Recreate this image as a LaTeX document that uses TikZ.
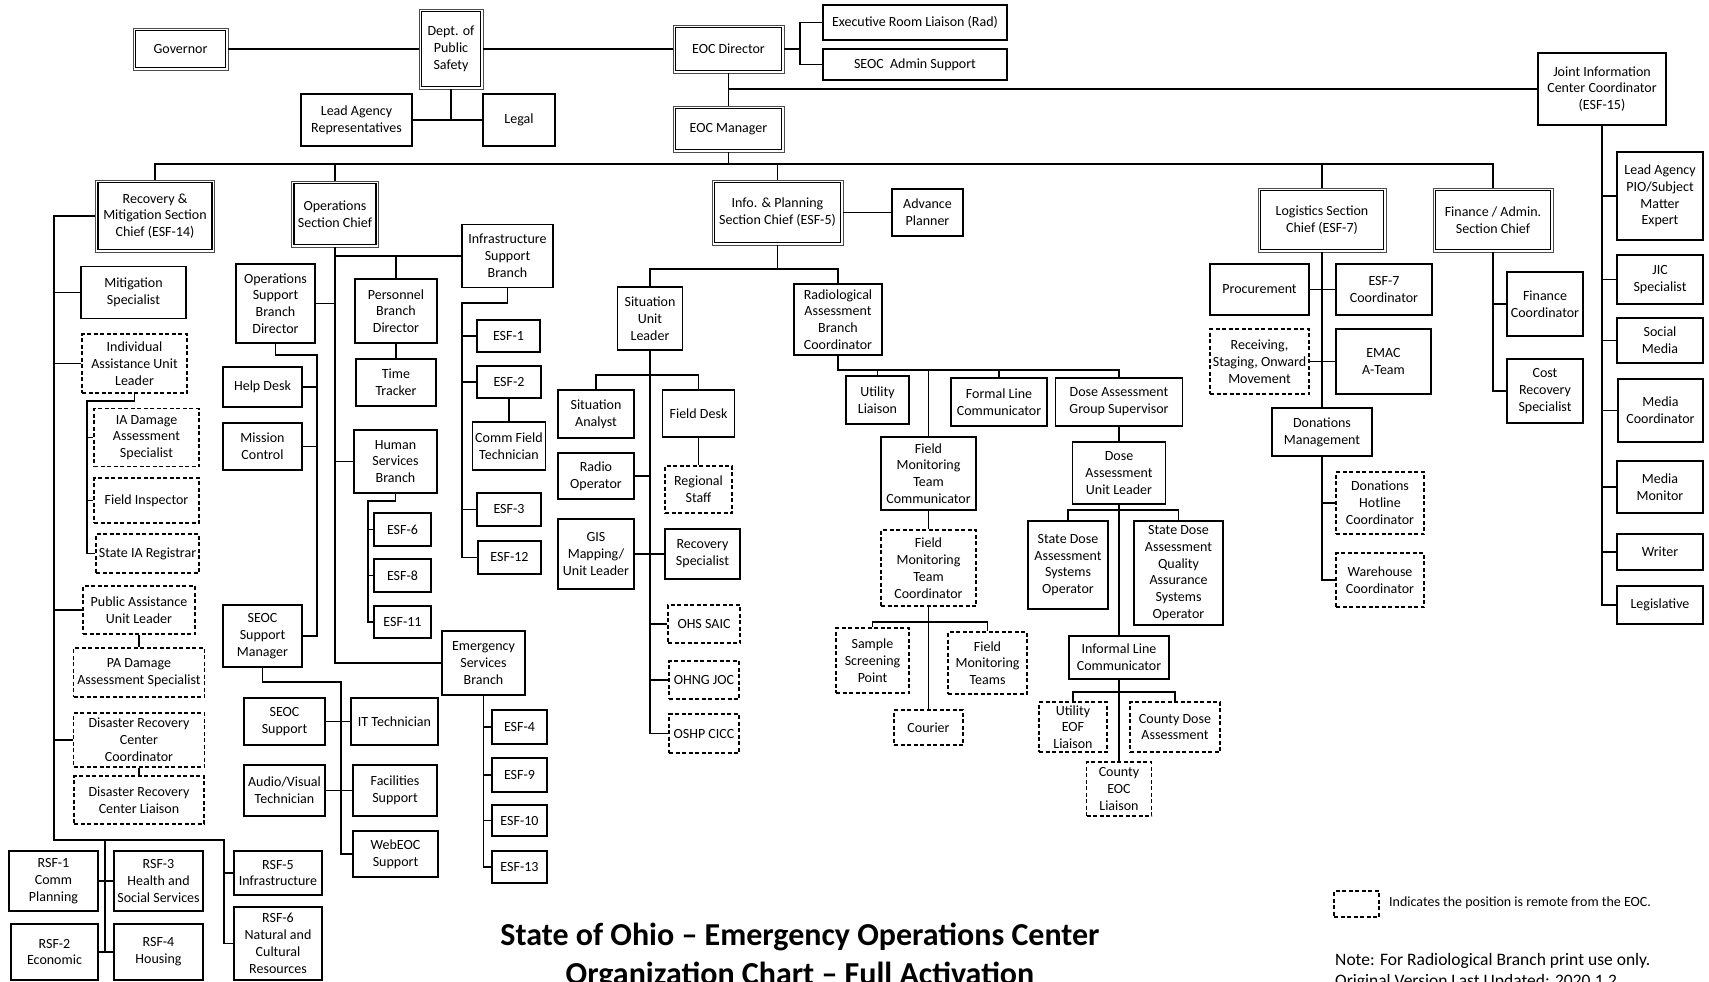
\documentclass[tikz,border=0pt]{standalone}
\usepackage{fontspec}
\setmainfont{Carlito}
\usetikzlibrary{calc}
\newcommand\bxf{\fontsize{14}{16.8}\selectfont}
\tikzset{
  bx/.style={draw, line width=1.3pt, align=center, inner sep=1pt, font=\bxf, fill=white},
  dbx/.style={bx, line width=1.1pt, dash pattern=on 4pt off 2.5pt},
  dbl/.style={bx, line width=0.8pt, draw=black!70},
  inner frame/.style={line width=1.6pt, black},
  sz/.style 2 args={minimum width=#1pt, minimum height=#2pt},
  cn/.style={line width=1.3pt}
}
\begin{document}
\begin{tikzpicture}[x=1pt,y=-1pt]
\useasboundingbox[fill=white] (0,0) rectangle (1709,982);
% ---------------- top level
\node[dbl, sz={95}{42}] (gov) at (180.5,49) {Governor};
\node[dbl, sz={64}{80}] (dps) at (451,49) {Dept. of\\Public\\Safety};
\node[dbl, sz={111}{48}] (dir) at (728.5,49) {EOC Director};
\node[bx, sz={184}{35}] (exr) at (915,22.5) {Executive Room Liaison (Rad)};
\node[bx, sz={184}{31}] (adm) at (915,64.5) {SEOC\ \ Admin Support};
\node[bx, sz={111}{52}] (lar) at (356.5,120) {Lead Agency\\Representatives};
\node[bx, sz={72}{52}] (leg) at (519,120) {Legal};
\node[dbl, sz={111}{46}] (mgr) at (728.5,129) {EOC Manager};
\node[bx, sz={128}{72}] (jic) at (1602,89) {Joint Information\\Center Coordinator\\(ESF-15)};
\coordinate (dj) at (800,49);
\coordinate (dj2) at (728.5,89);
\draw[cn] (gov.east) -- (dps.west);
\draw[cn] (dps.east) -- (dir.west);
\draw[cn] (dir.east) -- (dj);
\draw[cn] (exr.west) -| (dj) |- (adm.west);
\draw[cn] (dps.south) -- (dps.south |- lar.east);
\draw[cn] (lar.east) -- (leg.west);
\draw[cn] (dir.south) -- (mgr.north);
\draw[cn] (dj2) -- (jic.west);
% ---------------- sections
\node[dbl, sz={119}{72}] (rec) at (155,216) {Recovery \&\\Mitigation Section\\Chief (ESF-14)};
\node[dbl, sz={87}{66}] (ops) at (335,214) {Operations\\Section Chief};
\node[dbl, sz={131}{65}] (inf) at (777.5,212.5) {Info. \& Planning\\Section Chief (ESF-5)};
\node[dbl, sz={128}{64}] (log) at (1322,220) {Logistics Section\\Chief (ESF-7)};
\node[dbl, sz={120}{64}] (fin) at (1493,220) {Finance / Admin.\\Section Chief};
\foreach \n in {gov,dps,dir,mgr,rec,ops,inf,log,fin}
  \draw[inner frame] ($(\n.south west)+(2.8,-2.8)$) rectangle ($(\n.north east)+(-2.8,2.8)$);
\coordinate (barL) at (155,164);
\coordinate (barR) at (1493,164);
\draw[cn] (mgr.south) -- (mgr.south |- barL);
\draw[cn] (rec.north) |- (barR) -- (fin.north);
\foreach \n in {ops,inf,log} \draw[cn] (\n.north) -- (\n.north |- barL);
% ---------------- recovery & mitigation
\node[bx, sz={105}{52}] (mit) at (133.5,292.5) {Mitigation\\Specialist};
\node[dbx, sz={105}{59}] (iau) at (134.5,363.5) {Individual\\Assistance Unit\\Leader};
\node[dbx, sz={105}{58}] (iad) at (146.5,437.5) {IA Damage\\Assessment\\Specialist};
\node[dbx, sz={105}{45}] (fie) at (146.5,500.5) {Field Inspector};
\node[dbx, sz={103}{39}] (sia) at (147.5,553.5) {State IA Registrar};
\node[dbx, sz={112}{48}] (pau) at (139,610) {Public Assistance\\Unit Leader};
\node[dbx, sz={131}{49}] (pad) at (139,672.5) {PA Damage\\Assessment Specialist};
\node[dbx, sz={131}{54}] (drc) at (139,740) {Disaster Recovery\\Center\\Coordinator};
\node[dbx, sz={130}{48}] (drl) at (139,800) {Disaster Recovery\\Center Liaison};
\node[bx, sz={89}{60}] (rsf1) at (53.5,881) {RSF-1\\Comm\\Planning};
\node[bx, sz={89}{60}] (rsf3) at (158.5,881) {RSF-3\\Health and\\Social Services};
\node[bx, sz={87}{56}] (rsf2) at (54.5,952) {RSF-2\\Economic};
\node[bx, sz={89}{56}] (rsf4) at (158.5,952) {RSF-4\\Housing};
\node[bx, sz={88}{44}] (rsf5) at (278,873) {RSF-5\\Infrastructure};
\node[bx, sz={88}{73}] (rsf6) at (278,943.5) {RSF-6\\Natural and\\Cultural\\Resources};
\coordinate (rT) at (54,840);
\coordinate (rB) at (224,840);
\coordinate (rM) at (105,840);
\coordinate (iaJ) at (87,401);
\coordinate (iaT) at (87,553.5);
\draw[cn] (rec.west) -| (rT) -- (rB) |- (rsf6.west);
\foreach \n in {mit,iau,pau,drc} \draw[cn] (\n.west) -- (\n.west -| rT);
\draw[cn] (iau.south) |- (iaJ) -- (iaT) -- (sia.west);
\foreach \n in {iad,fie} \draw[cn] (\n.west) -- (\n.west -| iaJ);
\draw[cn] (pau.south) -- (pad.north);
\draw[cn] (drc.south) -- (drl.north);
\draw[cn] (rsf5.west) -- (rsf5.west -| rB);
\draw[cn] (rM) -- (rM |- rsf2.east);
\draw[cn] (rsf1.east) -- (rsf3.west);
\draw[cn] (rsf2.east) -- (rsf4.west);
% ---------------- operations
\node[bx, sz={91}{63}] (isb) at (507.5,256) {Infrastructure\\Support\\Branch};
\node[bx, sz={82}{64}] (pbd) at (396,311) {Personnel\\Branch\\Director};
\node[bx, sz={80}{47}] (tt) at (396,382.5) {Time\\Tracker};
\node[bx, sz={79}{79}] (osb) at (275.5,303.5) {Operations\\Support\\Branch\\Director};
\node[bx, sz={79}{40}] (hd) at (262.5,387) {Help Desk};
\node[bx, sz={79}{47}] (mc) at (262.5,446.5) {Mission\\Control};
\node[bx, sz={79}{62}] (ssm) at (262.5,636) {SEOC\\Support\\Manager};
\node[bx, sz={83}{63}] (hsb) at (395.5,461.5) {Human\\Services\\Branch};
\node[bx, sz={57}{33}] (esf6) at (402.5,529.5) {ESF-6};
\node[bx, sz={57}{33}] (esf8) at (402.5,575.5) {ESF-8};
\node[bx, sz={57}{32}] (esf11) at (402.5,622) {ESF-11};
\node[bx, sz={63}{32}] (esf1) at (508.5,336) {ESF-1};
\node[bx, sz={64}{32}] (esf2) at (509,382) {ESF-2};
\node[bx, sz={73}{48}] (cft) at (509,446) {Comm Field\\Technician};
\node[bx, sz={64}{33}] (esf3) at (509,509.5) {ESF-3};
\node[bx, sz={63}{33}] (esf12) at (509.5,557.5) {ESF-12};
\node[bx, sz={83}{64}] (esb) at (483.5,663) {Emergency\\Services\\Branch};
\node[bx, sz={55}{34}] (esf4) at (519.5,727) {ESF-4};
\node[bx, sz={55}{34}] (esf9) at (519.5,775) {ESF-9};
\node[bx, sz={55}{31}] (esf10) at (519.5,820.5) {ESF-10};
\node[bx, sz={55}{32}] (esf13) at (519.5,867) {ESF-13};
\node[bx, sz={81}{47}] (ss) at (284.5,721.5) {SEOC\\Support};
\node[bx, sz={87}{47}] (it) at (394.5,721.5) {IT Technician};
\node[bx, sz={81}{51}] (av) at (284.5,790.5) {Audio/Visual\\Technician};
\node[bx, sz={84}{51}] (fs) at (395,790.5) {Facilities\\Support};
\node[bx, sz={85}{46}] (web) at (395.5,854) {WebEOC\\Support};
\coordinate (oT) at (335,663);
\coordinate (pJ) at (396,256);
\coordinate (osJ) at (317,355);
\coordinate (hJ) at (368,501);
\coordinate (iJ) at (462,303);
\coordinate (sJ) at (341,682);
\draw[cn] (ops.south) -- (oT) -- (esb.west);
\draw[cn] (isb.west) -- (isb.west -| oT);
\draw[cn] (pJ) -- (pbd.north);
\draw[cn] (pbd.south) -- (tt.north);
\draw[cn] (osb.east) -- (osb.east -| oT);
\draw[cn] (hsb.west) -- (hsb.west -| oT);
\draw[cn] (osb.south) |- (osJ) |- (ssm.east);
\draw[cn] (hd.east) -- (hd.east -| osJ);
\draw[cn] (mc.east) -- (mc.east -| osJ);
\draw[cn] (hsb.south) |- (hJ) |- (esf11.west);
\draw[cn] (esf6.west) -- (esf6.west -| hJ);
\draw[cn] (esf8.west) -- (esf8.west -| hJ);
\draw[cn] (isb.south) |- (iJ) |- (esf12.west);
\foreach \n in {esf1,esf2,esf3} \draw[cn] (\n.west) -- (\n.west -| iJ);
\draw[cn] (esf2.south) -- (cft.north);
\draw[cn] (ssm.south) |- (sJ) |- (web.west);
\draw[cn] (ss.east) -- (it.west);
\draw[cn] (av.east) -- (fs.west);
\draw[cn] (esb.south) |- (esf13.west);
\foreach \n in {esf4,esf9,esf10} \draw[cn] (\n.west) -- (\n.west -| esb.south);
% ---------------- info & planning
\node[bx, sz={71}{47}] (adv) at (927.5,212.5) {Advance\\Planner};
\node[bx, sz={65}{63}] (sul) at (650,318.5) {Situation\\Unit\\Leader};
\node[bx, sz={88}{71}] (rab) at (838,319.5) {Radiological\\Assessment\\Branch\\Coordinator};
\node[bx, sz={76}{48}] (sa) at (596,414) {Situation\\Analyst};
\node[bx, sz={72}{47}] (fd) at (698.5,413.5) {Field Desk};
\node[dbx, sz={67}{47}] (rs) at (698.5,489.5) {Regional\\Staff};
\node[bx, sz={76}{46}] (ro) at (596,476) {Radio\\Operator};
\node[bx, sz={76}{70}] (gis) at (596,554) {GIS\\Mapping/\\Unit Leader};
\node[bx, sz={75}{50}] (rsp) at (702.5,554) {Recovery\\Specialist};
\node[dbx, sz={72}{38}] (ohs) at (704,624) {OHS SAIC};
\node[dbx, sz={70}{38}] (ohng) at (704,680) {OHNG JOC};
\node[dbx, sz={70}{39}] (oshp) at (704,733.5) {OSHP CICC};
\coordinate (pL) at (650,269);
\coordinate (pR) at (838,269);
\coordinate (sT) at (650,733.5);
\coordinate (saJ) at (596,375);
\draw[cn] (inf.east) -- (adv.west);
\draw[cn] (inf.south) -- (inf.south |- pL);
\draw[cn] (sul.north) |- (pR) -- (rab.north);
\draw[cn] (sul.south) -- (sT) -- (oshp.west);
\draw[cn] (sa.north) -- (saJ) -| (fd.north);
\draw[cn] (fd.south) -- (rs.north);
\draw[cn] (ro.east) -- (ro.east -| sT);
\draw[cn] (gis.east) -- (rsp.west);
\draw[cn] (ohs.west) -- (ohs.west -| sT);
\draw[cn] (ohng.west) -- (ohng.west -| sT);
% ---------------- radiological
\node[bx, sz={63}{48}] (ul) at (877.5,400) {Utility\\Liaison};
\node[bx, sz={96}{48}] (flc) at (999,402) {Formal Line\\Communicator};
\node[bx, sz={127}{48}] (dags) at (1119,402) {Dose Assessment\\Group Supervisor};
\node[bx, sz={95}{73}] (fmtc) at (928.5,473.5) {Field\\Monitoring\\Team\\Communicator};
\node[dbx, sz={95}{76}] (fmtco) at (928.5,568) {Field\\Monitoring\\Team\\Coordinator};
\node[dbx, sz={73}{65}] (ssp) at (872.5,660.5) {Sample\\Screening\\Point};
\node[dbx, sz={79}{62}] (fmt) at (987.5,663) {Field\\Monitoring\\Teams};
\node[dbx, sz={69}{35}] (cour) at (928.5,727.5) {Courier};
\node[bx, sz={93}{62}] (daul) at (1119,473) {Dose\\Assessment\\Unit Leader};
\node[bx, sz={80}{88}] (sdaso) at (1068,565) {State Dose\\Assessment\\Systems\\Operator};
\node[bx, sz={89}{104}] (sdqa) at (1178.5,573) {State Dose\\Assessment\\Quality\\Assurance\\Systems\\Operator};
\node[bx, sz={100}{43}] (ilc) at (1119,657.5) {Informal Line\\Communicator};
\node[dbx, sz={68}{50}] (uel) at (1073,727) {Utility\\EOF\\Liaison};
\node[dbx, sz={90}{50}] (cda) at (1175,727) {County Dose\\Assessment};
\node[dbx, sz={65}{54}] (cel) at (1119,789) {County\\EOC\\Liaison};
\coordinate (rJ) at (838,370);
\coordinate (fJ) at (928.5,622);
\coordinate (dJ) at (1119,510);
\coordinate (cJ) at (1119,692);
\draw[cn] (rab.south) -- (rJ) -| (dags.north);
\foreach \n in {ul,flc,fmtc} \draw[cn] (\n.north) -- (\n.north |- rJ);
\draw[cn] (fmtc.south) -- (fmtco.north);
\draw[cn] (fmtco.south) -- (cour.north);
\draw[cn] (ssp.north) |- (fJ) -| (fmt.north);
\draw[cn] (dags.south) -- (daul.north);
\draw[cn] (daul.south) -- (ilc.north);
\draw[cn] (sdaso.north) |- (dJ) -| (sdqa.north);
\draw[cn] (ilc.south) -- (cel.north);
\draw[cn] (uel.north) |- (cJ) -| (cda.north);
% ---------------- logistics
\node[bx, sz={99}{51}] (proc) at (1259.5,289.5) {Procurement};
\node[bx, sz={96}{51}] (e7c) at (1384,289.5) {ESF-7\\Coordinator};
\node[dbx, sz={99}{65}] (rso) at (1259.5,361.5) {Receiving,\\Staging, Onward\\Movement};
\node[bx, sz={95}{65}] (emac) at (1383.5,361.5) {EMAC\\A-Team};
\node[bx, sz={100}{48}] (dm) at (1322,432) {Donations\\Management};
\node[dbx, sz={88}{62}] (dhc) at (1380,503) {Donations\\Hotline\\Coordinator};
\node[dbx, sz={88}{54}] (wc) at (1380,580) {Warehouse\\Coordinator};
\draw[cn] (log.south) -- (dm.north);
\draw[cn] (proc.east) -- (e7c.west);
\draw[cn] (rso.east) -- (emac.west);
\draw[cn] (dm.south) |- (wc.west);
\draw[cn] (dhc.west) -- (dhc.west -| dm.south);
% ---------------- finance
\node[bx, sz={76}{64}] (fc) at (1545,304) {Finance\\Coordinator};
\node[bx, sz={76}{64}] (crs) at (1545,391) {Cost\\Recovery\\Specialist};
\draw[cn] (fin.south) |- (crs.west);
\draw[cn] (fc.west) -- (fc.west -| fin.south);
% ---------------- JIC
\node[bx, sz={86}{88}] (lapio) at (1660,196) {Lead Agency\\PIO/Subject\\Matter\\Expert};
\node[bx, sz={86}{49}] (jics) at (1660,279.5) {JIC\\Specialist};
\node[bx, sz={86}{45}] (sm) at (1660,340.5) {Social\\Media};
\node[bx, sz={85}{63}] (mco) at (1660.5,410.5) {Media\\Coordinator};
\node[bx, sz={86}{52}] (mmo) at (1660,487) {Media\\Monitor};
\node[bx, sz={86}{36}] (wri) at (1660,552) {Writer};
\node[bx, sz={86}{38}] (legis) at (1660,605) {Legislative};
\draw[cn] (jic.south) |- (legis.west);
\foreach \n in {lapio,jics,sm,mco,mmo,wri} \draw[cn] (\n.west) -- (\n.west -| jic.south);
% ---------------- legend, notes, title
\node[dbx, sz={45}{26}] (lgb) at (1356.5,904) {};
\node[anchor=west, font=\bxf, inner sep=0pt] (lgt) at (1389,903) {Indicates the position is remote from the EOC.};
\node[anchor=base west, font=\fontsize{17.5}{21}\selectfont, inner sep=0pt] (nt1) at (1335,965) {Note: For Radiological Branch print use only.};
\node[anchor=base west, font=\fontsize{17.5}{21}\selectfont, inner sep=0pt] (nt2) at (1335,986) {Original Version Last Updated: 2020.1.2};
\node[anchor=base, font=\bfseries\fontsize{32}{38}\selectfont, inner sep=0pt] (t1) at (800,945) {State of Ohio – Emergency Operations Center};
\node[anchor=base, font=\bfseries\fontsize{32}{38}\selectfont, inner sep=0pt] (t2) at (800,984) {Organization Chart – Full Activation};
\end{tikzpicture}
\end{document}
